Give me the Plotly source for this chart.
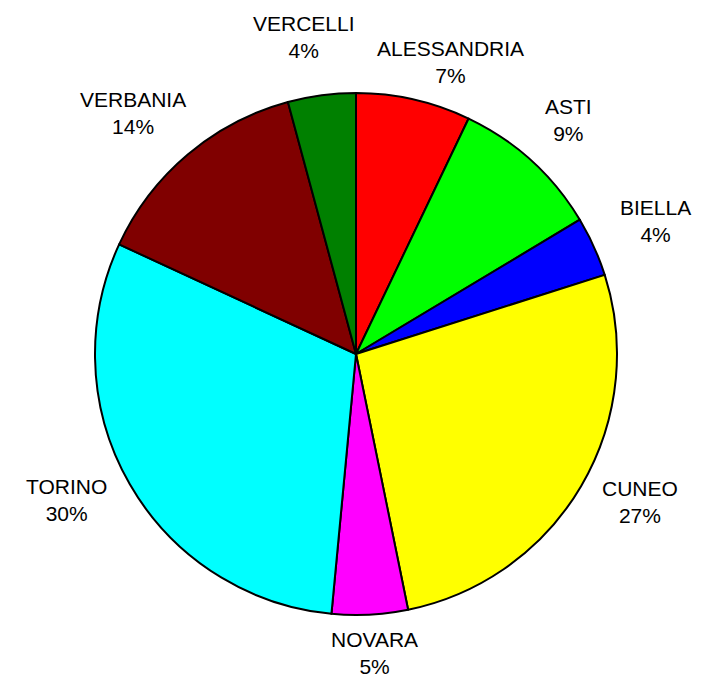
import math
import plotly.graph_objects as go

labels = ["ALESSANDRIA", "ASTI", "BIELLA", "CUNEO", "NOVARA", "TORINO", "VERBANIA", "VERCELLI"]
values = [7.1, 9.3, 3.7, 26.7, 4.7, 30.4, 13.9, 4.2]
colors = ["#FF0000", "#00FF00", "#0000FF", "#FFFF00", "#FF00FF", "#00FFFF", "#800000", "#008000"]

W, H = 701, 677
BODY = 8  # default page body margin shifts the figure
ML, MT = 95 - BODY, 93 - BODY
side = 522
MR, MB = W - ML - side, H - MT - side
radius = side / 2.0
CX, CY = BODY + ML + radius, BODY + MT + radius  # pie centre on the page

# label ring (page pixels)
RX, RY, LIFT = radius * 1.123, radius * 1.092, 7.0
font_size = 21
block_h = 43.0
pad = 22.0
EDGE = 15.0

AW = {"A": 667, "B": 667, "C": 722, "D": 722, "E": 667, "F": 611, "G": 778, "H": 722,
      "I": 278, "L": 556, "N": 722, "O": 778, "R": 722, "S": 667, "T": 611, "V": 667,
      "%": 889}


def text_w(s):
    return sum(AW.get(c, 556) for c in s) * font_size / 1000.0


total = sum(values)
pcts = [round(v / total * 100) for v in values]
texts = [f"{l}<br>{p}%" for l, p in zip(labels, pcts)]
widths = [max(text_w(l), text_w(f"{p}%")) for l, p in zip(labels, pcts)]

pos = []
cum = 0.0
for v, w in zip(values, widths):
    a = (cum + v / 2.0) / total * 2 * math.pi
    cum += v
    dx, dy = math.sin(a), -math.cos(a)
    pos.append([CX + dx * RX + dx * w / 2.0,
                CY + dy * RY + dy * block_h / 2.0 - LIFT])


def inside(x, y, w):
    return (x - w / 2 >= EDGE and x + w / 2 <= W - EDGE
            and y - block_h / 2 >= EDGE and y + block_h / 2 <= H - EDGE)


n = len(labels)
for _ in range(400):
    moved = False
    for i in range(n):
        j = (i + 1) % n
        xi, yi = pos[i]
        xj, yj = pos[j]
        ox = (widths[i] + widths[j]) / 2.0 + pad - abs(xi - xj)
        oy = block_h - abs(yi - yj)
        if ox > 0 and oy > 0:
            sx = 1 if xj >= xi else -1
            sy = 1 if yj >= yi else -1
            for k, s in ((i, -1), (j, 1)):
                nx = pos[k][0] + s * sx * 0.5
                ny = pos[k][1] + s * sy * 0.5
                if inside(nx, ny, widths[k]):
                    pos[k] = [nx, ny]
                    moved = True
    if not moved:
        break

fig = go.Figure(go.Pie(
    labels=labels,
    values=values,
    sort=False,
    direction="clockwise",
    rotation=0,
    marker=dict(colors=colors, line=dict(color="black", width=2)),
    textinfo="none",
    showlegend=False,
    hoverinfo="label+percent",
))

annotations = []
for i in range(n):
    px, py = pos[i]
    annotations.append(dict(
        x=(px - BODY - ML) / side, y=1 - (py - BODY - MT) / side,
        xref="paper", yref="paper",
        xanchor="center", yanchor="middle",
        text=texts[i],
        showarrow=False,
        font=dict(family="Liberation Sans, Arial, sans-serif", size=font_size, color="black"),
    ))

fig.update_layout(
    width=W, height=H,
    margin=dict(l=ML, r=MR, t=MT, b=MB),
    paper_bgcolor="white",
    plot_bgcolor="white",
    annotations=annotations,
)
fig.write_html("out.html")
